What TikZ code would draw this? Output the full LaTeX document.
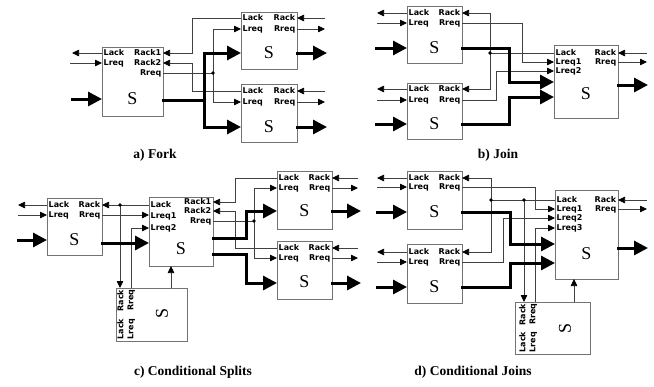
\documentclass[tikz,border=0pt]{standalone}
\usepackage{fontspec}
\setmainfont{Liberation Serif}
\newfontfamily\labfont{DejaVu Sans}
\usetikzlibrary{arrows.meta,fit}
\definecolor{linecol}{gray}{0.25}
\definecolor{boxcol}{gray}{0.45}
\tikzset{
  wire/.style={draw=linecol, line width=0.75pt},
  wa/.style={wire, -{Triangle[length=7pt,width=6.5pt,color=black]}},
  thk/.style={draw=black, line width=3pt, line cap=rect},
  ta/.style={thk, -{Triangle[length=14pt,width=14pt]}},
  sbox/.style={draw=boxcol, line width=1pt, fill=white, inner sep=0pt, outer sep=0pt},
  lab/.style={font=\labfont\bfseries\fontsize{8}{9}\selectfont, inner sep=0pt, text height=6pt, text depth=1.5pt},
  lw/.style={lab, anchor=west},
  le/.style={lab, anchor=east},
  sglyph/.style={font=\fontsize{18}{20}\selectfont, inner sep=0pt},
  captxt/.style={font=\bfseries\fontsize{13.5}{15}\selectfont, inner sep=0pt},
  jdot/.style={fill=black},
}
\begin{document}
\begin{tikzpicture}[x=1pt,y=-1pt]
\useasboundingbox (0,0) rectangle (654,386);

% ================= a) Fork =================
\node[sbox, fit={(102,47) (163,116)}] (A0) {};
\node[lw] (A0a) at (103.5,53) {Lack};
\node[lw] (A0b) at (103.5,63) {Lreq};
\node[le] (A0c) at (161.5,53) {Rack1};
\node[le] (A0d) at (161.5,63) {Rack2};
\node[le] (A0e) at (161.5,73) {Rreq};
\node[sglyph] (A0s) at (132.5,99) {S};

\node[sbox, fit={(241,12) (297,69)}] (A1) {};
\node[lw] (A1a) at (242.5,18) {Lack};
\node[lw] (A1b) at (242.5,29) {Lreq};
\node[le] (A1c) at (295.5,18) {Rack};
\node[le] (A1d) at (295.5,29) {Rreq};
\node[sglyph] (A1s) at (269,53) {S};

\node[sbox, fit={(241,84) (297,142)}] (A2) {};
\node[lw] (A2a) at (242.5,91) {Lack};
\node[lw] (A2b) at (242.5,102) {Lreq};
\node[le] (A2c) at (295.5,91) {Rack};
\node[le] (A2d) at (295.5,102) {Rreq};
\node[sglyph] (A2s) at (269,127) {S};

\coordinate (a-lo) at (72,53);
\coordinate (a-li) at (70,63);
\coordinate (a-di) at (72,99);
\draw[wa] (A0.west |- a-lo) -- (a-lo);
\draw[wa] (a-li) -- (A0.west |- a-li);
\draw[ta] (a-di) -- (A0.west |- a-di);
\draw[wa] (A1.west |- 0,18) -- (192,18) |- (A0.east |- 0,53);
\draw[wa] (A2.west |- 0,91) -- (192,91) |- (A0.east |- 0,63);
\coordinate (a-j) at (213,73);
\draw[wire] (A0.east |- a-j) -- (a-j);
\draw[wa] (a-j) |- (A1.west |- 0,29);
\draw[wa] (a-j) |- (A2.west |- 0,102);
\fill[jdot] (a-j) circle (1.8pt);
\coordinate (a-t) at (204,100);
\draw[thk] (A0.east |- a-t) -- (a-t);
\draw[ta] (a-t) |- (A1.west |- 0,53);
\draw[ta] (a-t) |- (A2.west |- 0,127);
\coordinate (a1-ri) at (325,18);
\coordinate (a1-ro) at (325,29);
\coordinate (a1-do) at (327,53);
\draw[wa] (a1-ri) -- (A1.east |- a1-ri);
\draw[wa] (A1.east |- a1-ro) -- (a1-ro);
\draw[ta] (A1.east |- a1-do) -- (a1-do);
\coordinate (a2-ri) at (325,91);
\coordinate (a2-ro) at (325,102);
\coordinate (a2-do) at (327,127);
\draw[wa] (a2-ri) -- (A2.east |- a2-ri);
\draw[wa] (A2.east |- a2-ro) -- (a2-ro);
\draw[ta] (A2.east |- a2-do) -- (a2-do);
\node[captxt] (capA) at (155,155) {a) Fork};

% ================= b) Join =================
\node[sbox, fit={(407,6) (462,63)}] (B0) {};
\node[lw] (B0a) at (408.5,13) {Lack};
\node[lw] (B0b) at (408.5,23) {Lreq};
\node[le] (B0c) at (460.5,13) {Rack};
\node[le] (B0d) at (460.5,23) {Rreq};
\node[sglyph] (B0s) at (434.5,48) {S};

\node[sbox, fit={(407,83) (462,139)}] (B1) {};
\node[lw] (B1a) at (408.5,89) {Lack};
\node[lw] (B1b) at (408.5,100) {Lreq};
\node[le] (B1c) at (460.5,89) {Rack};
\node[le] (B1d) at (460.5,100) {Rreq};
\node[sglyph] (B1s) at (434.5,124) {S};

\node[sbox, fit={(554,45) (618,118)}] (B2) {};
\node[lw] (B2a) at (555.5,53) {Lack};
\node[lw] (B2b) at (555.5,62) {Lreq1};
\node[lw] (B2c) at (555.5,71) {Lreq2};
\node[le] (B2d) at (616.5,53) {Rack};
\node[le] (B2e) at (616.5,62) {Rreq};
\node[sglyph] (B2s) at (586,94) {S};

\coordinate (b0-lo) at (377,13);
\coordinate (b0-li) at (377,23);
\coordinate (b0-di) at (376,48);
\draw[wa] (B0.west |- b0-lo) -- (b0-lo);
\draw[wa] (b0-li) -- (B0.west |- b0-li);
\draw[ta] (b0-di) -- (B0.west |- b0-di);
\coordinate (b1-lo) at (377,89);
\coordinate (b1-li) at (377,100);
\coordinate (b1-di) at (376,124);
\draw[wa] (B1.west |- b1-lo) -- (b1-lo);
\draw[wa] (b1-li) -- (B1.west |- b1-li);
\draw[ta] (b1-di) -- (B1.west |- b1-di);
\coordinate (b-j) at (490,53);
\draw[wire] (B2.west |- b-j) -- (b-j);
\draw[wa] (b-j) |- (B0.east |- 0,13);
\draw[wa] (b-j) |- (B1.east |- 0,89);
\fill[jdot] (b-j) circle (1.8pt);
\draw[wa] (B0.east |- 0,23) -- (522,23) |- (B2.west |- 0,62);
\draw[wa] (B1.east |- 0,100) -- (496,100) |- (B2.west |- 0,71);
\draw[ta] (B0.east |- 0,48) -- (509,48) |- (B2.west |- 0,82);
\draw[ta] (B1.east |- 0,124) -- (509,124) |- (B2.west |- 0,97);
\coordinate (b2-ri) at (647,53);
\coordinate (b2-ro) at (647,62);
\coordinate (b2-do) at (648,85);
\draw[wa] (b2-ri) -- (B2.east |- b2-ri);
\draw[wa] (B2.east |- b2-ro) -- (b2-ro);
\draw[ta] (B2.east |- b2-do) -- (b2-do);
\node[captxt] (capB) at (498,155) {b) Join};

% ================= c) Conditional Splits =================
\node[sbox, fit={(47,198) (102,255)}] (C0) {};
\node[lw] (C0a) at (48.5,205) {Lack};
\node[lw] (C0b) at (48.5,215) {Lreq};
\node[le] (C0c) at (100.5,205) {Rack};
\node[le] (C0d) at (100.5,215) {Rreq};
\node[sglyph] (C0s) at (74.5,240) {S};

\node[sbox, fit={(149,197) (213,266)}] (C1) {};
\node[lw] (C1a) at (150.5,205) {Lack};
\node[lw] (C1b) at (150.5,216) {Lreq1};
\node[lw] (C1c) at (150.5,228) {Lreq2};
\node[le] (C1d) at (211.5,202) {Rack1};
\node[le] (C1e) at (211.5,211) {Rack2};
\node[le] (C1f) at (211.5,221) {Rreq};
\node[sglyph] (C1s) at (181,249) {S};

\node[sbox, fit={(116,288) (187,341)}] (C2) {};
\node[lw, rotate=90] (C2a) at (121,339.5) {Lack};
\node[le, rotate=90] (C2b) at (121,289.5) {Rack};
\node[lw, rotate=90] (C2c) at (131,339.5) {Lreq};
\node[le, rotate=90] (C2d) at (131,289.5) {Rreq};
\node[sglyph, rotate=90] (C2s) at (162,313) {S};

\node[sbox, fit={(277,171) (332,229)}] (C3) {};
\node[lw] (C3a) at (278.5,178) {Lack};
\node[lw] (C3b) at (278.5,188) {Lreq};
\node[le] (C3c) at (330.5,178) {Rack};
\node[le] (C3d) at (330.5,188) {Rreq};
\node[sglyph] (C3s) at (304.5,211) {S};

\node[sbox, fit={(277,241) (332,299)}] (C4) {};
\node[lw] (C4a) at (278.5,248) {Lack};
\node[lw] (C4b) at (278.5,258) {Lreq};
\node[le] (C4c) at (330.5,248) {Rack};
\node[le] (C4d) at (330.5,258) {Rreq};
\node[sglyph] (C4s) at (304.5,282) {S};

\coordinate (c0-lo) at (18,205);
\coordinate (c0-li) at (18,215);
\coordinate (c0-di) at (18,240);
\draw[wa] (C0.west |- c0-lo) -- (c0-lo);
\draw[wa] (c0-li) -- (C0.west |- c0-li);
\draw[ta] (c0-di) -- (C0.west |- c0-di);
\coordinate (c-j1) at (120,205);
\draw[wire] (C1.west |- c-j1) -- (c-j1);
\draw[wa] (c-j1) -- (C0.east |- c-j1);
\draw[wa] (c-j1) -- (C2.north -| c-j1);
\fill[jdot] (c-j1) circle (1.8pt);
\draw[wa] (C0.east |- 0,215) -- (C1.west |- 0,215);
\draw[wa] (C2.north -| 131,0) |- (C1.west |- 0,228);
\draw[wa] (C2.north -| 171,0) -- (C1.south -| 171,0);
\draw[ta] (C0.east |- 0,243) -- (C1.west |- 0,243);
\draw[wa] (C3.west |- 0,178) -- (235,178) |- (C1.east |- 0,202);
\draw[wa] (C4.west |- 0,248) -- (235,248) |- (C1.east |- 0,211);
\coordinate (c-j2) at (254,221);
\draw[wire] (C1.east |- c-j2) -- (c-j2);
\draw[wa] (c-j2) |- (C3.west |- 0,188);
\draw[wa] (c-j2) |- (C4.west |- 0,258);
\fill[jdot] (c-j2) circle (1.8pt);
\draw[ta] (C1.east |- 0,238) -- (246,238) |- (C3.west |- 0,211);
\draw[ta] (C1.east |- 0,254) -- (246,254) |- (C4.west |- 0,283);
\coordinate (c3-ri) at (358,178);
\coordinate (c3-ro) at (358,188);
\coordinate (c3-do) at (361,211);
\draw[wa] (c3-ri) -- (C3.east |- c3-ri);
\draw[wa] (C3.east |- c3-ro) -- (c3-ro);
\draw[ta] (C3.east |- c3-do) -- (c3-do);
\coordinate (c4-ri) at (358,248);
\coordinate (c4-ro) at (358,258);
\coordinate (c4-do) at (361,283);
\draw[wa] (c4-ri) -- (C4.east |- c4-ri);
\draw[wa] (C4.east |- c4-ro) -- (c4-ro);
\draw[ta] (C4.east |- c4-do) -- (c4-do);
\node[captxt] (capC) at (193,372) {c) Conditional Splits};

% ================= d) Conditional Joins =================
\node[sbox, fit={(407,171) (462,229)}] (D0) {};
\node[lw] (D0a) at (408.5,178) {Lack};
\node[lw] (D0b) at (408.5,187) {Lreq};
\node[le] (D0c) at (460.5,178) {Rack};
\node[le] (D0d) at (460.5,187) {Rreq};
\node[sglyph] (D0s) at (434.5,212) {S};

\node[sbox, fit={(407,244) (462,303)}] (D1) {};
\node[lw] (D1a) at (408.5,252) {Lack};
\node[lw] (D1b) at (408.5,262) {Lreq};
\node[le] (D1c) at (460.5,252) {Rack};
\node[le] (D1d) at (460.5,262) {Rreq};
\node[sglyph] (D1s) at (434.5,287) {S};

\node[sbox, fit={(555,190) (618,279)}] (D2) {};
\node[lw] (D2a) at (556.5,200) {Lack};
\node[lw] (D2b) at (556.5,209) {Lreq1};
\node[lw] (D2c) at (556.5,218) {Lreq2};
\node[lw] (D2d) at (556.5,228) {Lreq3};
\node[le] (D2e) at (616.5,200) {Rack};
\node[le] (D2f) at (616.5,209) {Rreq};
\node[sglyph] (D2s) at (586.5,254) {S};

\node[sbox, fit={(515,302) (590,354)}] (D3) {};
\node[lw, rotate=90] (D3a) at (523,352.5) {Lack};
\node[le, rotate=90] (D3b) at (523,303.5) {Rack};
\node[lw, rotate=90] (D3c) at (533,352.5) {Lreq};
\node[le, rotate=90] (D3d) at (533,303.5) {Rreq};
\node[sglyph, rotate=90] (D3s) at (565,328) {S};

\coordinate (d0-lo) at (377,178);
\coordinate (d0-li) at (377,187);
\coordinate (d0-di) at (377,212);
\draw[wa] (D0.west |- d0-lo) -- (d0-lo);
\draw[wa] (d0-li) -- (D0.west |- d0-li);
\draw[ta] (d0-di) -- (D0.west |- d0-di);
\coordinate (d1-lo) at (377,252);
\coordinate (d1-li) at (377,262);
\coordinate (d1-di) at (377,287);
\draw[wa] (D1.west |- d1-lo) -- (d1-lo);
\draw[wa] (d1-li) -- (D1.west |- d1-li);
\draw[ta] (d1-di) -- (D1.west |- d1-di);
\coordinate (d-j1) at (491,200);
\coordinate (d-j2) at (524,200);
\draw[wire] (D2.west |- d-j2) -- (d-j1);
\draw[wa] (d-j1) |- (D0.east |- 0,178);
\draw[wa] (d-j1) |- (D1.east |- 0,252);
\draw[wa] (d-j2) -- (D3.north -| d-j2);
\fill[jdot] (d-j1) circle (1.8pt);
\fill[jdot] (d-j2) circle (1.8pt);
\draw[wa] (D0.east |- 0,187) -- (535,187) |- (D2.west |- 0,209);
\draw[wa] (D1.east |- 0,262) -- (503,262) |- (D2.west |- 0,218);
\draw[wa] (D3.north -| 535,0) |- (D2.west |- 0,228);
\draw[wa] (D3.north -| 574,0) -- (D2.south -| 574,0);
\draw[ta] (D0.east |- 0,212) -- (510,212) |- (D2.west |- 0,244);
\draw[ta] (D1.east |- 0,287) -- (510,287) |- (D2.west |- 0,263);
\coordinate (d2-ri) at (647,200);
\coordinate (d2-ro) at (647,209);
\coordinate (d2-do) at (648,248);
\draw[wa] (d2-ri) -- (D2.east |- d2-ri);
\draw[wa] (D2.east |- d2-ro) -- (d2-ro);
\draw[ta] (D2.east |- d2-do) -- (d2-do);
\node[captxt] (capD) at (473,372) {d) Conditional Joins};
\end{tikzpicture}
\end{document}
